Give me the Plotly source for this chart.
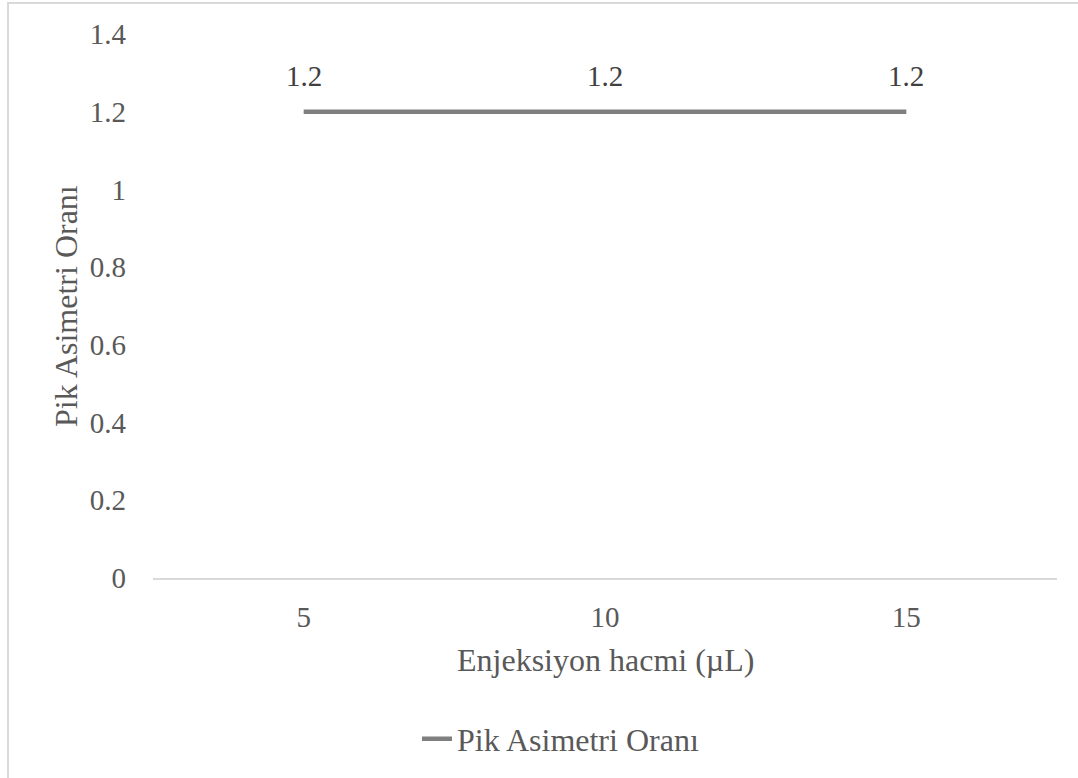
import plotly.graph_objects as go

# Data
categories = ["5", "10", "15"]
asymmetry = [1.2, 1.2, 1.2]
series_name = "Pik Asimetri Oranı"
y_ticks = [0, 0.2, 0.4, 0.6, 0.8, 1.0, 1.2, 1.4]
y_tick_text = ["0", "0.2", "0.4", "0.6", "0.8", "1", "1.2", "1.4"]

W, H = 1078, 778
ML, MR, MT, MB = 153, 21, 34, 200
PW, PH = W - ML - MR, H - MT - MB

FONT = "Liberation Serif, Times New Roman, serif"
TXT = "#595959"
TICK_SIZE = 29
TITLE_SIZE = 32

fig = go.Figure()
fig.add_trace(go.Scatter(
    x=categories, y=asymmetry, mode="lines", name=series_name,
    line=dict(color="#7f7f7f", width=4.5),
    cliponaxis=False,
))


def px_x(p):
    return (p - ML) / PW


def px_y(p):
    return (H - MB - p) / PH


# value labels above each point (category axis positions are indices)
labels = [
    dict(x=i, y=v, xref="x", yref="y", text=f"{v:g}", showarrow=False,
         yshift=36, font=dict(family=FONT, size=TICK_SIZE, color="#404040"))
    for i, v in enumerate(asymmetry)
]

fig.update_layout(
    width=W, height=H,
    margin=dict(l=ML, r=MR, t=MT, b=MB),
    paper_bgcolor="white", plot_bgcolor="white",
    font=dict(family=FONT, size=TICK_SIZE, color=TXT),
    showlegend=True,
    legend=dict(orientation="h", x=px_x(417), xanchor="left", y=px_y(739), yanchor="middle",
                font=dict(family=FONT, size=TITLE_SIZE, color=TXT)),
    xaxis=dict(type="category", range=[-0.5, 2.5], showgrid=False, zeroline=False,
               showline=True, linecolor="#d9d9d9", linewidth=2, ticks="",
               ticklabelstandoff=12, tickfont=dict(family=FONT, size=TICK_SIZE, color=TXT)),
    yaxis=dict(range=[0, 1.4], tickvals=y_ticks, ticktext=y_tick_text, showgrid=False,
               zeroline=False, showline=False, ticks="", ticklabelstandoff=26,
               tickfont=dict(family=FONT, size=TICK_SIZE, color=TXT)),
    annotations=labels + [
        dict(text="Enjeksiyon hacmi (µL)", xref="paper", yref="paper",
             x=0.5, y=px_y(660), xanchor="center", yanchor="middle", showarrow=False,
             font=dict(family=FONT, size=TITLE_SIZE, color=TXT)),
        dict(text="Pik Asimetri Oranı", xref="paper", yref="paper", textangle=-90,
             x=px_x(66), y=0.5, xanchor="center", yanchor="middle", showarrow=False,
             font=dict(family=FONT, size=TITLE_SIZE, color=TXT)),
    ],
    shapes=[
        dict(type="rect", xref="paper", yref="paper",
             x0=px_x(8), x1=px_x(1090), y0=px_y(790), y1=px_y(3),
             line=dict(color="#d9d9d9", width=2), fillcolor="rgba(0,0,0,0)", layer="below"),
    ],
)

fig.write_html("out.html")
